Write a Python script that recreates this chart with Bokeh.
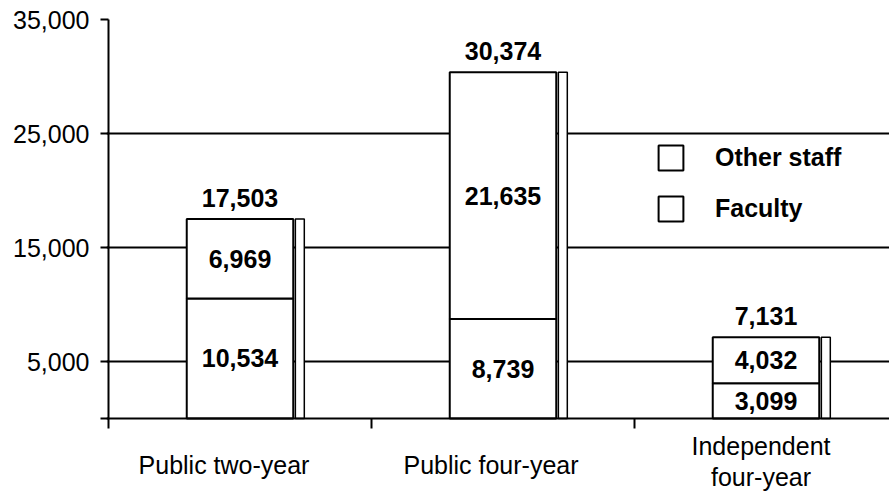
import math
from bokeh.plotting import figure
from bokeh.models import Range1d, FixedTicker, Legend, LegendItem, Span, ColumnDataSource
from bokeh.embed import file_html
from bokeh.resources import INLINE

# ---- data ----
categories = ["Public two-year", "Public four-year", "Independent\nfour-year"]
faculty = [10534, 8739, 3099]
other_staff = [6969, 21635, 4032]
totals = [17503, 30374, 7131]
y_ticks = [0, 5000, 15000, 25000, 35000]
y_tick_labels = ["", "5,000", "15,000", "25,000", "35,000"]
grid_values = [5000, 15000, 25000, 35000]
Y_TOP = 35000

# ---- styles / layout ----
FONT = "Liberation Sans"
FS = "25px"
BAR_W = 0.405
SHADOW_W = 0.034
SHADOW_GAP = 0.008
PX_PER_UNIT = 263          # horizontal scale: one category = 263 px
LEFT_BORDER = 106
W, H = 889, 492
TOP_BORDER = 19
PLOT_PX_TO_TOP = 399       # pixels from value 0 up to Y_TOP
cat_label_dx = [-16, -12, -5]   # pixel nudges of category labels
cat_label_dy = [46, 46, 43]

n = len(categories)
cat_x = [i + 0.5 for i in range(n)]
fac_mid = [f / 2 for f in faculty]
oth_top = [f + o for f, o in zip(faculty, other_staff)]
oth_mid = [f + o / 2 for f, o in zip(faculty, other_staff)]

src = ColumnDataSource(dict(
    x=cat_x,
    faculty=faculty,
    other=other_staff,
    top=oth_top,
    total=totals,
    fac_mid=fac_mid,
    oth_mid=oth_mid,
    fac_txt=[f"{v:,}" for v in faculty],
    oth_txt=[f"{v:,}" for v in other_staff],
    tot_txt=[f"{v:,}" for v in totals],
    sx=[c + BAR_W / 2 + SHADOW_GAP + SHADOW_W / 2 for c in cat_x],
))
lab_src = ColumnDataSource(dict(x=cat_x, y=[0] * n, text=categories,
                                dx=cat_label_dx, dy=cat_label_dy))

frame_w = W - LEFT_BORDER
frame_h = H - TOP_BORDER
x0 = -2 / PX_PER_UNIT
x1 = x0 + frame_w / PX_PER_UNIT
y0 = -Y_TOP * (frame_h - PLOT_PX_TO_TOP) / PLOT_PX_TO_TOP

p = figure(width=W, height=H,
           x_range=Range1d(x0, x1), y_range=Range1d(y0, Y_TOP),
           output_backend="svg", toolbar_location=None,
           min_border_left=LEFT_BORDER, min_border_right=0,
           min_border_top=TOP_BORDER, min_border_bottom=0)
p.outline_line_color = None
p.background_fill_color = "white"
p.border_fill_color = "white"

# grid
p.xgrid.visible = False
p.ygrid.ticker = FixedTicker(ticks=grid_values)
p.ygrid.grid_line_color = "black"
p.ygrid.grid_line_width = 2

# y axis (ticks + labels; the axis line itself is drawn as a ray from 0 up)
p.yaxis.ticker = FixedTicker(ticks=y_ticks)
p.yaxis.major_label_overrides = {t: l for t, l in zip(y_ticks, y_tick_labels)}
p.yaxis.major_tick_out = 6
p.yaxis.major_tick_in = 2
p.yaxis.minor_tick_line_color = None
p.yaxis.axis_line_color = None
p.yaxis.major_tick_line_width = 2
p.yaxis.major_label_text_font = FONT
p.yaxis.major_label_text_font_size = FS
p.yaxis.major_label_text_color = "black"
p.yaxis.major_label_standoff = 11

p.xaxis.visible = False

# x axis line at 0 and vertical axis line from 0 up
p.add_layout(Span(location=0, dimension="width", line_color="black", line_width=2))
p.ray(x=[0], y=[0], length=0, angle=math.pi / 2, line_color="black", line_width=2)
# category boundary ticks
p.ray(x=list(range(n)), y=[0] * n, length=10, length_units="screen",
      angle=-math.pi / 2, line_color="black", line_width=2)

# category labels
p.text(x="x", y="y", text="text", source=lab_src, x_offset="dx", y_offset="dy",
       text_align="center", text_baseline="middle", text_line_height=1.12,
       text_font={"value": FONT}, text_font_size={"value": FS},
       text_color="black")

# shadows
p.vbar(x="sx", width=SHADOW_W, bottom=0, top="total", source=src,
       fill_color="white", line_color="black", line_width=1.5)
# bars
r_fac = p.vbar(x="x", width=BAR_W, bottom=0, top="faculty", source=src,
               fill_color="white", line_color="black", line_width=2)
r_oth = p.vbar(x="x", width=BAR_W, bottom="faculty", top="top", source=src,
               fill_color="white", line_color="black", line_width=2)

# value labels
for ycol, tcol in [("fac_mid", "fac_txt"), ("oth_mid", "oth_txt")]:
    p.text(x="x", y=ycol, text=tcol, source=src,
           text_align="center", text_baseline="middle",
           text_font={"value": FONT}, text_font_size={"value": FS},
           text_font_style="bold", text_color="black")
p.text(x="x", y="total", text="tot_txt", source=src,
       text_align="center", text_baseline="middle", y_offset=-21,
       text_font={"value": FONT}, text_font_size={"value": FS},
       text_font_style="bold", text_color="black")

legend = Legend(items=[LegendItem(label="Other staff", renderers=[r_oth]),
                       LegendItem(label="Faculty", renderers=[r_fac])],
                location=(549, 268), glyph_width=31, glyph_height=31,
                label_standoff=29, spacing=20, padding=0, margin=0,
                border_line_color=None, background_fill_alpha=0,
                label_text_font=FONT, label_text_font_size=FS,
                label_text_font_style="bold", label_text_color="black",
                label_height=31)
p.add_layout(legend)

open("out.html", "w").write(file_html(p, INLINE))
